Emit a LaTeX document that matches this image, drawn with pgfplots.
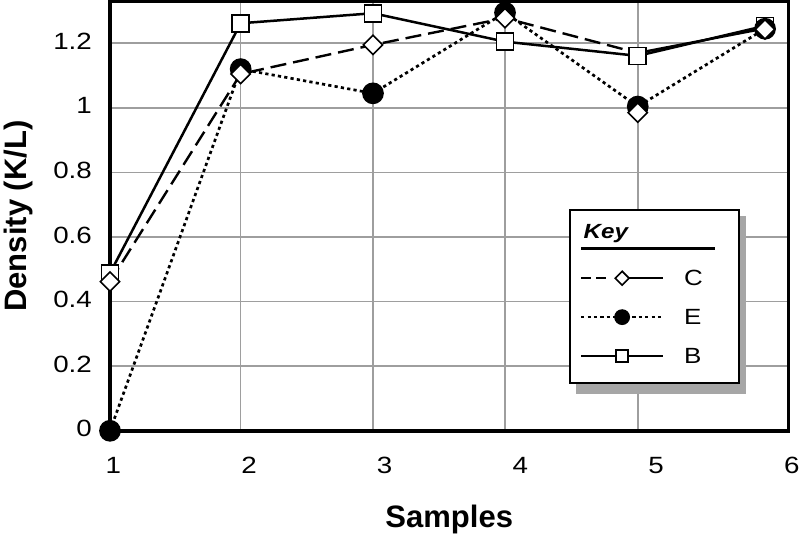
\documentclass[border=0pt]{standalone}
\usepackage{fontspec}
\setmainfont{Liberation Sans}
\newfontfamily\stretchfont{Liberation Sans}[FakeStretch=1.18]
\usepackage{pgfplots}
\pgfplotsset{compat=1.18}
\pgfplotsset{
  leglineB/.style={legend image code/.code={\draw[##1, line width=2.2pt, mark size=6pt, mark repeat=2, mark phase=2] plot coordinates {(0pt,0pt) (41pt,0pt) (82pt,0pt)};}},
  leglineE/.style={legend image code/.code={\draw[##1, line width=2.2pt, mark size=6.8pt, mark repeat=2, mark phase=2] plot coordinates {(0pt,0pt) (41pt,0pt) (82pt,0pt)};}},
  leglineC/.style={legend image code/.code={%
    \draw[black, line width=2.2pt, dash pattern=on 10pt off 5pt] (0pt,0pt) -- (26pt,0pt);
    \draw[black, line width=2.2pt] (44pt,0pt) -- (82pt,0pt);
    \draw[##1, mark size=4.9pt] plot coordinates {(41pt,0pt)};}},
}

\begin{document}
\begin{tikzpicture}
\useasboundingbox (0pt,0pt) rectangle (803pt,540pt);
\begin{axis}[
  at={(110pt,109.2pt)}, anchor=south west,
  scale only axis, width=678.5pt, height=429.5pt,
  xmin=1, xmax=6, ymin=0, ymax=1.330,
  clip=false,
  axis line style={line width=3.8pt, black},
  xtick={1,2,3,4,5,6},
  xticklabels={1,2,3,4,5,6},
  ytick={0,0.2,0.4,0.6,0.8,1,1.2},
  yticklabels={0,0.2,0.4,0.6,0.8,1,1.2},
  minor xtick={1.963,2.938,3.911,4.889},
  xmajorgrids=false, xminorgrids=true, ymajorgrids=true,
  grid style={line width=1.6pt, color=black!38},
  minor grid style={line width=1.6pt, color=black!38},
  major tick length=0pt, minor tick length=0pt,
  tick style={draw=none},
  xticklabel style={font=\stretchfont\fontsize{23.5}{28}\selectfont, anchor=north, inner sep=0pt, yshift=-26pt, xshift=3.3pt},
  yticklabel style={font=\stretchfont\fontsize{23.5}{28}\selectfont, anchor=east, inner sep=0pt, xshift=-18pt, yshift=2pt},
  xlabel={Samples},
  ylabel={Density (K/L)},
  every axis x label/.style={at={(axis description cs:0.5,-0.224)}, anchor=base, font=\bfseries\fontsize{31}{36}\selectfont},
  every axis y label/.style={at={(axis description cs:-0.1228,0.5)}, rotate=90, anchor=base, font=\bfseries\fontsize{31}{36}\selectfont},
  legend style={
    at={(axis description cs:0.6758,0.5157)}, anchor=north west,
    draw=black, line width=2pt, fill=white,
    inner xsep=10.5pt, inner ysep=19.8pt, column sep=20pt, row sep=23.6pt,
    font=\stretchfont\fontsize{22}{26}\selectfont,
    nodes={inner sep=0pt, text depth={}},
  },
  legend cell align=left,
  reverse legend,
]
% legend shadow (under the legend box, over the grid)
\fill[black!35] (axis description cs:0.6861,0.0857) rectangle (axis description cs:0.9369,0.4994);
% C line (drawn first, under the others)
\addplot[forget plot, black, line width=2.4pt, dash pattern=on 16pt off 7pt]
  coordinates {(1,0.462) (1.963,1.105) (2.938,1.195) (3.911,1.278) (4.889,1.170)};
\addplot[forget plot, black, line width=2.4pt]
  coordinates {(4.889,1.170) (5.827,1.246)};
% B
\addplot[black, line width=2.5pt, mark=square*, mark size=8.5pt,
  mark options={fill=white, line width=1.6pt, solid}, leglineB]
  coordinates {(1,0.488) (1.963,1.262) (2.938,1.293) (3.911,1.205) (4.889,1.161) (5.827,1.254)};
\addlegendentry{B}
% E
\addplot[black, line width=2.7pt, dash pattern=on 3.2pt off 3.2pt, mark=*, mark size=9.5pt,
  mark options={solid, fill=black}, leglineE]
  coordinates {(1,0) (1.963,1.120) (2.938,1.045) (3.911,1.295) (4.889,1.004) (5.827,1.245)};
\addlegendentry{E}
% C marks
\addplot[only marks, black, mark=square*, mark size=6.8pt,
  mark options={rotate=45, fill=white, line width=1.6pt, solid}, leglineC]
  coordinates {(1,0.462) (1.963,1.105) (2.938,1.195) (3.911,1.278) (4.889,0.985) (5.827,1.243)};
\addlegendentry{C}
\addlegendimage{empty legend}
\addlegendentry{\raisebox{0pt}[8.6pt][8.1pt]{\makebox[44pt][l]{\hspace*{-103pt}\rlap{\raisebox{-10.9pt}{\rule{133.5pt}{2.6pt}}}\hspace*{2.5pt}{\bfseries\itshape\fontsize{20.5}{24}\selectfont Key}}}}
\end{axis}
\end{tikzpicture}
\end{document}
